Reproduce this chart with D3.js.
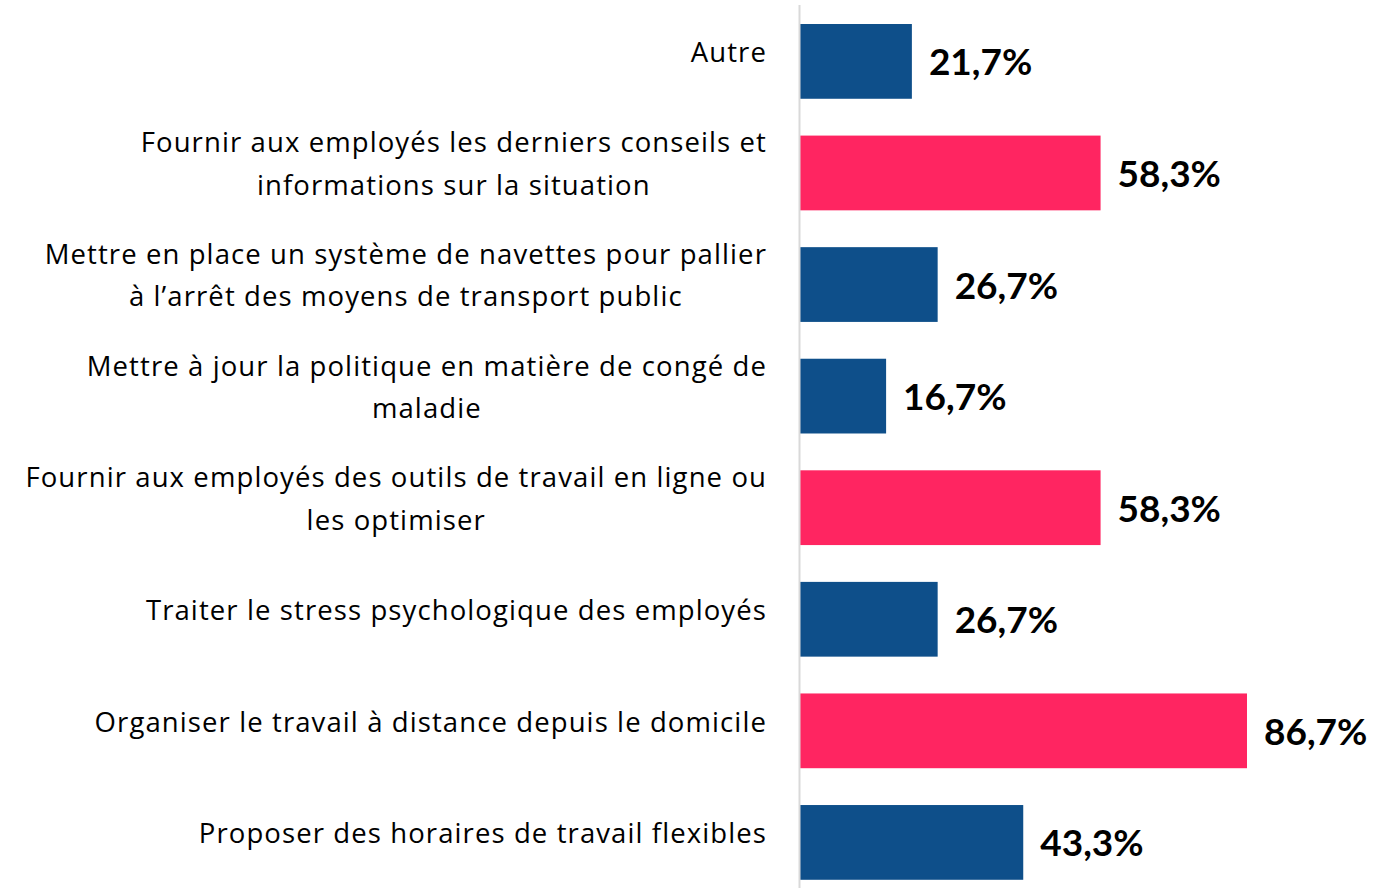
<!DOCTYPE html>
<html lang="fr">
    <head>
        <meta charset="utf-8">
        <title>Mesures prises</title>
        <script src="https://d3js.org/d3.v7.min.js"></script>
        <style type="text/css">
            body { margin: 0; background: white; }
            .cat { font-family: "Open Sans", sans-serif; font-size: 27.5px; letter-spacing: 1.1px; fill: #000; }
            .val { font-family: Lato, sans-serif; font-size: 37px; font-weight: 700; fill: #000; }
        </style>
    </head>
    <body>
        <svg width="1393" height="888"></svg>
        <script type="text/javascript">

            // data, top to bottom
            const categories = [
                ["Autre"],
                ["Fournir aux employés les derniers conseils et", "informations sur la situation"],
                ["Mettre en place un système de navettes pour pallier", "à l’arrêt des moyens de transport public"],
                ["Mettre à jour la politique en matière de congé de", "maladie"],
                ["Fournir aux employés des outils de travail en ligne ou", "les optimiser"],
                ["Traiter le stress psychologique des employés"],
                ["Organiser le travail à distance depuis le domicile"],
                ["Proposer des horaires de travail flexibles"]
            ];
            const values = [21.7, 58.3, 26.7, 16.7, 58.3, 26.7, 86.7, 43.3];
            const highlight = [false, true, false, false, true, false, true, false];

            const svg = d3.select("svg");
            const x0 = 800;

            const x = d3.scaleLinear().domain([0, 86.7]).range([x0, 1247]);
            const y = d3.scaleBand()
                        .domain(d3.range(values.length))
                        .range([5.6, 898.2])
                        .paddingInner(0.33)
                        .paddingOuter(0.165);

            const blue = "#0e4f8a";
            const pink = "#ff2561";

            // bars
            svg.selectAll("rect.bar")
               .data(values)
               .enter()
               .append("rect")
               .attr("class", "bar")
               .attr("x", x(0))
               .attr("y", (d,i)=>y(i))
               .attr("width", d=>x(d) - x(0))
               .attr("height", y.bandwidth())
               .style("fill", (d,i)=>highlight[i] ? pink : blue);

            // axis line
            svg.append("line")
               .attr("x1", x0 - 0.5).attr("x2", x0 - 0.5)
               .attr("y1", 5).attr("y2", 888)
               .style("stroke", "#d9d9d9")
               .style("stroke-width", 2);

            // value labels
            svg.selectAll("text.val")
               .data(values)
               .enter()
               .append("text")
               .attr("class", "val")
               .attr("x", d=>x(d) + 17)
               .attr("y", (d,i)=>y(i) + y.bandwidth()/2 + 14)
               .text(d=>d.toFixed(1).replace(".", ",") + "%");

            // category labels: lines centred inside a right-aligned block
            const lineH = 42.5;
            const rightEdge = 767;
            categories.forEach((lines, i) => {
                const cy = y(i) + y.bandwidth()/2;
                const g = svg.append("g");
                const n = lines.length;
                const texts = lines.map((s, k) => g.append("text")
                    .attr("class", "cat")
                    .attr("text-anchor", "middle")
                    .attr("y", cy + 0.7 + (k - (n-1)/2) * lineH)
                    .text(s));
                const maxW = d3.max(texts, t => t.node().getComputedTextLength());
                texts.forEach(t => t.attr("x", rightEdge - maxW/2));
            });

        </script>
    </body>
</html>
